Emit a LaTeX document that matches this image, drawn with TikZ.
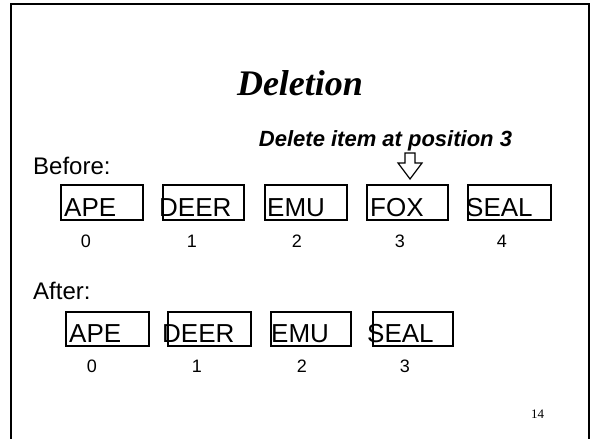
\documentclass[tikz,border=0pt]{standalone}
\usepackage{fontspec}
\setmainfont{Liberation Sans}
\newfontfamily\serifface{Liberation Serif}
\begin{document}
\begin{tikzpicture}[x=1pt,y=-1pt,
  cell/.style={draw,line width=1.4pt,inner sep=0pt},
  celltext/.style={anchor=base west,inner sep=0pt,font=\fontsize{26}{30}\selectfont},
  idx/.style={anchor=base,inner sep=0pt,font=\fontsize{18}{21}\selectfont},
  heading/.style={anchor=base west,inner sep=0pt,font=\fontsize{24}{28}\selectfont}]
\useasboundingbox (0,0) rectangle (595,439);
% slide frame
\draw[line width=1.6pt] (11,439) -- (11,4) -- (589,4) -- (589,439);
% titles
\node[anchor=base,inner sep=0pt,font=\serifface\fontsize{36}{40}\selectfont\bfseries\itshape] (title) at (300,95) {Deletion};
\node[anchor=base,inner sep=0pt,font=\fontsize{22}{26}\selectfont\bfseries\itshape] (note) at (385.5,146) {Delete item at position 3};
\node[heading] (before) at (33,174) {Before:};
\node[heading] (after) at (33,299) {After:};
% list before deletion
\foreach \name/\l/\r/\tx/\nx/\word/\i in {
  a0/61/143/64/86/APE/0, a1/163/244/159/192/DEER/1, a2/265/347/267/297/EMU/2,
  a3/367/448/370/400/FOX/3, a4/468/551/466/502/SEAL/4}{
  \path[cell] (\l,185) rectangle (\r,220);
  \node[celltext] (\name) at (\tx,216) {\word};
  \node[idx] (\name i) at (\nx,247) {\i};
}
% list after deletion
\foreach \name/\l/\r/\tx/\nx/\word/\i in {
  b0/66/149/69/92/APE/0, b1/168/251/162/197/DEER/1, b2/271/351/271/302/EMU/2,
  b3/373/453/367/405/SEAL/3}{
  \path[cell] (\l,312) rectangle (\r,346);
  \node[celltext] (\name) at (\tx,342) {\word};
  \node[idx] (\name i) at (\nx,372) {\i};
}
% hollow arrow pointing at position 3
\draw[line width=1.2pt,line join=miter] (405,153) -- (415,153) -- (415,163) -- (422,163)
  -- (410,179) -- (398,163) -- (405,163) -- cycle;
% page number
\node[anchor=base,inner sep=0pt,font=\serifface\fontsize{13}{15}\selectfont] (page) at (537.5,418) {14};
\end{tikzpicture}
\end{document}
